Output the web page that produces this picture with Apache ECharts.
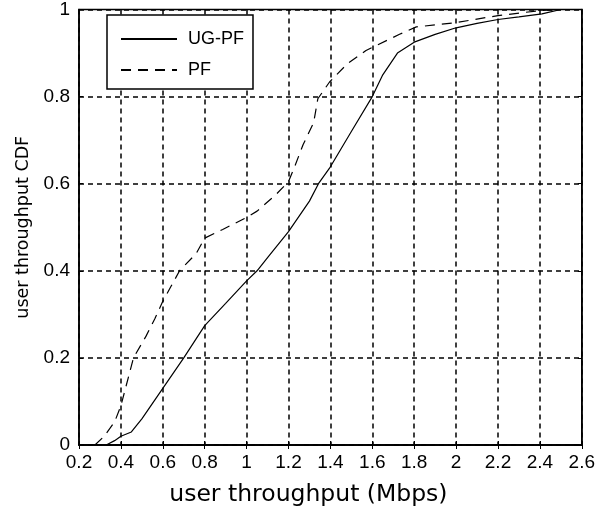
<!DOCTYPE html>
<html>
<head>
<meta charset="utf-8">
<script src="https://cdn.jsdelivr.net/npm/echarts@6/dist/echarts.min.js"></script>
<style>html,body{margin:0;padding:0;background:#fff}#c{width:598px;height:517px}</style>
</head>
<body>
<div id="c"></div>
<script>
var xTicks = [0.2,0.4,0.6,0.8,1,1.2,1.4,1.6,1.8,2,2.2,2.4,2.6];
var yTicks = [0,0.2,0.4,0.6,0.8,1];
var ugpfX = [0.33,0.37,0.4,0.45,0.5,0.6,0.7,0.8,0.9,1.0,1.05,1.1,1.2,1.3,1.343,1.395,1.5,1.6,1.65,1.72,1.8,1.9,2.0,2.1,2.2,2.3,2.41,2.5];
var ugpfY = [0,0.01,0.02,0.03,0.06,0.13,0.2,0.274,0.325,0.377,0.4,0.43,0.49,0.56,0.6,0.635,0.72,0.80,0.85,0.90,0.925,0.943,0.958,0.968,0.977,0.983,0.99,1.0];
var pfX = [0.276,0.32,0.37,0.4,0.46,0.52,0.562,0.6,0.64,0.68,0.76,0.8,0.886,0.99,1.05,1.14,1.2,1.23,1.27,1.32,1.34,1.395,1.48,1.57,1.73,1.81,2.0,2.2,2.41,2.5];
var pfY = [0,0.02,0.053,0.09,0.2,0.25,0.29,0.33,0.365,0.40,0.44,0.475,0.495,0.52,0.537,0.575,0.605,0.64,0.69,0.74,0.795,0.833,0.875,0.906,0.943,0.96,0.97,0.986,0.998,1.0];

function pairs(xs, ys){ return xs.map(function(x,i){ return [x, ys[i]]; }); }
function fmt(v){ return String(+(+v).toFixed(1)); }

var chart = echarts.init(document.getElementById('c'));
var font = '"Liberation Sans", Arial, sans-serif';
var titleFont = '"DejaVu Sans", Verdana, sans-serif';
var gridLine = {show:true, lineStyle:{color:'#000', width:1.5, type:[5,4]}};
chart.setOption({
  animation:false,
  backgroundColor:'#fff',
  grid:{left:79, right:14, top:7, bottom:72, show:true, borderColor:'#000', borderWidth:1.5, backgroundColor:'transparent'},
  legend:{
    left:107, top:15, orient:'vertical', itemWidth:56, itemHeight:14, itemGap:11,
    padding:[14,9,9,13], borderColor:'#000', borderWidth:1.5, backgroundColor:'#fff',
    itemStyle:{opacity:0},
    textStyle:{fontFamily:font, fontSize:18, color:'#000', lineHeight:20, padding:[0,0,0,6]},
    data:['UG-PF','PF']
  },
  xAxis:[{
    type:'value', min:0.2, max:2.6, interval:0.2,
    name:'user throughput (Mbps)', nameLocation:'middle', nameGap:38,
    nameTextStyle:{fontFamily:titleFont, fontSize:23.5, color:'#000', padding:[0,44,0,0]},
    axisLine:{show:true, lineStyle:{color:'#000', width:1.5}},
    axisTick:{show:true, inside:true, length:4, lineStyle:{color:'#000'}},
    axisLabel:{formatter:fmt, fontFamily:font, fontSize:19, color:'#000', margin:8},
    splitLine:gridLine
  },{
    type:'value', position:'top', min:0.2, max:2.6, interval:0.2,
    axisLine:{show:true, lineStyle:{color:'#000', width:1.5}},
    axisTick:{show:true, inside:true, length:4, lineStyle:{color:'#000'}},
    axisLabel:{show:false}, splitLine:{show:false}
  }],
  yAxis:[{
    type:'value', min:0, max:1, interval:0.2,
    name:'user throughput CDF', nameLocation:'middle', nameGap:44, nameRotate:90,
    nameTextStyle:{fontFamily:titleFont, fontSize:17.5, color:'#000'},
    axisLine:{show:true, lineStyle:{color:'#000', width:1.5}},
    axisTick:{show:true, inside:true, length:4, lineStyle:{color:'#000'}},
    axisLabel:{formatter:fmt, fontFamily:font, fontSize:19, color:'#000', margin:9},
    splitLine:gridLine
  },{
    type:'value', position:'right', min:0, max:1, interval:0.2,
    axisLine:{show:true, lineStyle:{color:'#000', width:1.5}},
    axisTick:{show:true, inside:true, length:4, lineStyle:{color:'#000'}},
    axisLabel:{show:false}, splitLine:{show:false}
  }],
  series:[
    {name:'UG-PF', type:'line', data:pairs(ugpfX, ugpfY), symbol:'none', color:'#000',
     lineStyle:{color:'#000', width:1.2, type:'solid'}},
    {name:'PF', type:'line', data:pairs(pfX, pfY), symbol:'none', color:'#000',
     lineStyle:{color:'#000', width:1.2, type:[10,7]}}
  ]
});
</script>
</body>
</html>
